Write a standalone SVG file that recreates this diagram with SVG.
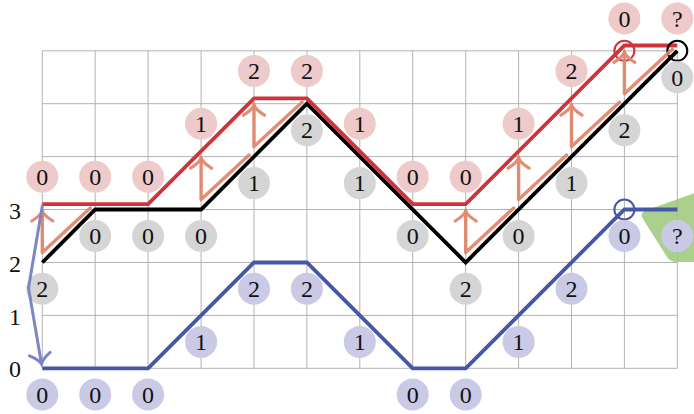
<svg xmlns="http://www.w3.org/2000/svg" width="694" height="414" viewBox="0 0 694 414">
<defs>
<style>
.grid{stroke:#b3b3b3;stroke-width:1;fill:none}
.ln{fill:none;stroke-width:3.8;stroke-linejoin:miter}
.blk{stroke:#000}
.red{stroke:#d0343b}
.blu{stroke:#4657a6}
.ring{fill:none;stroke-width:2}
.sal{fill:none;stroke:#e0856a;stroke-width:3.4;stroke-linejoin:round;stroke-linecap:round;opacity:0.92}
.lb circle{stroke:none}
.p circle{fill:#efcaca}
.g circle{fill:#d5d5d5}
.b circle{fill:#cacae6}
text{font-family:"Liberation Serif","DejaVu Serif",serif;font-size:24px;fill:#111;text-anchor:middle}
</style>
<marker id="ahS" markerUnits="userSpaceOnUse" viewBox="-14 -14 28 28" markerWidth="28" markerHeight="28" refX="0" refY="0" orient="auto" overflow="visible">
<path d="M-10,-10.5 C-6,-4 -2,-0.8 0,0 C-2,0.8 -6,4 -10,10.5" fill="none" stroke="#e0856a" stroke-width="3.2" stroke-linecap="round"/>
</marker>
<marker id="ahB" markerUnits="userSpaceOnUse" viewBox="-14 -14 28 28" markerWidth="28" markerHeight="28" refX="0" refY="0" orient="auto" overflow="visible">
<path d="M-10,-10.5 C-6,-4 -2,-0.8 0,0 C-2,0.8 -6,4 -10,10.5" fill="none" stroke="#7d86c3" stroke-width="3" stroke-linecap="round"/>
</marker>
</defs>
<rect width="694" height="414" fill="#fff"/>
<g id="highlight">
<path d="M643,219 Q639,213 646,210.5 L700,191 L700,262 L677,262 Q670,262 667,257 Z" fill="#abd08e"/>
</g>
<g id="grid" class="grid">
<path d="M42.3,50.8V368.3M95.2,50.8V368.3M148.1,50.8V368.3M201.1,50.8V368.3M254,50.8V368.3M306.9,50.8V368.3M359.8,50.8V368.3M412.7,50.8V368.3M465.7,50.8V368.3M518.6,50.8V368.3M571.5,50.8V368.3M624.4,50.8V368.3M677.3,50.8V368.3"/>
<path d="M42.3,50.8H677.3M42.3,103.7H677.3M42.3,156.6H677.3M42.3,209.5H677.3M42.3,262.5H677.3M42.3,315.4H677.3M42.3,368.3H677.3"/>
</g>
<g id="axis">
<text x="15" y="219">3</text>
<text x="15" y="272">2</text>
<text x="15" y="325">1</text>
<text x="15" y="377">0</text>
</g>
<g id="connectors">
<path id="black-path" class="ln blk" d="M42.3,262.5 L95.2,209.5 L201.1,209.5 L306.9,103.7 L465.7,262.5 L677.3,50.8"/>
<path id="red-path" class="ln red" d="M42.3,204.2 L148.1,204.2 L254,98.4 L306.9,98.4 L412.7,204.2 L465.7,204.2 L624.4,45.5 L677.3,45.5"/>
<path id="blue-path" class="ln blu" d="M42.3,368.3 L148.1,368.3 L254,262.5 L306.9,262.5 L412.7,368.3 L465.7,368.3 L624.4,209.5 L677.3,209.5"/>
<circle class="ring red" cx="624.4" cy="50.8" r="10"/>
<circle class="ring blk" cx="677.3" cy="50.8" r="10"/>
<circle class="ring blu" cx="624.4" cy="209.5" r="10"/>
<g id="shifts">
<path class="sal" marker-end="url(#ahS)" d="M90.3,208 L42.3,252.5 L42.3,211"/>
<path class="sal" marker-end="url(#ahS)" d="M249.1,155 L201.1,199.5 L201.1,158.1"/>
<path class="sal" marker-end="url(#ahS)" d="M302,102.2 L254,146.6 L254,105.2"/>
<path class="sal" marker-end="url(#ahS)" d="M513.7,208 L465.7,252.5 L465.7,211"/>
<path class="sal" marker-end="url(#ahS)" d="M566.6,155 L518.6,199.5 L518.6,158.1"/>
<path class="sal" marker-end="url(#ahS)" d="M619.5,102.2 L571.5,146.6 L571.5,105.2"/>
<path class="sal" marker-end="url(#ahS)" d="M672.4,49.3 L624.4,93.7 L624.4,52.3"/>
</g>
</g>
<g id="red-labels" class="lb p">
<g id="r0"><circle cx="42.3" cy="176.7" r="16"/><text x="42.3" y="184.9">0</text></g>
<g id="r1"><circle cx="95.2" cy="176.7" r="16"/><text x="95.2" y="184.9">0</text></g>
<g id="r2"><circle cx="148.1" cy="176.7" r="16"/><text x="148.1" y="184.9">0</text></g>
<g id="r3"><circle cx="201.1" cy="123.8" r="16"/><text x="201.1" y="132">1</text></g>
<g id="r4"><circle cx="254" cy="70.9" r="16"/><text x="254" y="79.1">2</text></g>
<g id="r5"><circle cx="306.9" cy="70.9" r="16"/><text x="306.9" y="79.1">2</text></g>
<g id="r6"><circle cx="359.8" cy="123.8" r="16"/><text x="359.8" y="132">1</text></g>
<g id="r7"><circle cx="412.7" cy="176.7" r="16"/><text x="412.7" y="184.9">0</text></g>
<g id="r8"><circle cx="465.7" cy="176.7" r="16"/><text x="465.7" y="184.9">0</text></g>
<g id="r9"><circle cx="518.6" cy="123.8" r="16"/><text x="518.6" y="132">1</text></g>
<g id="r10"><circle cx="571.5" cy="70.9" r="16"/><text x="571.5" y="79.1">2</text></g>
<g id="r11"><circle cx="624.4" cy="18.5" r="16"/><text x="624.4" y="26.7">0</text></g>
<g id="r12"><circle cx="677.3" cy="18.5" r="16"/><text x="677.3" y="26.7">?</text></g>
</g>
<g id="black-labels" class="lb g">
<g id="k0"><circle cx="42.3" cy="288.8" r="16"/><text x="42.3" y="297">2</text></g>
<g id="k1"><circle cx="95.2" cy="236" r="16"/><text x="95.2" y="244.2">0</text></g>
<g id="k2"><circle cx="148.1" cy="236" r="16"/><text x="148.1" y="244.2">0</text></g>
<g id="k3"><circle cx="201.1" cy="236" r="16"/><text x="201.1" y="244.2">0</text></g>
<g id="k4"><circle cx="254" cy="183.1" r="16"/><text x="254" y="191.3">1</text></g>
<g id="k5"><circle cx="306.9" cy="130.2" r="16"/><text x="306.9" y="138.4">2</text></g>
<g id="k6"><circle cx="359.8" cy="183.1" r="16"/><text x="359.8" y="191.3">1</text></g>
<g id="k7"><circle cx="412.7" cy="236" r="16"/><text x="412.7" y="244.2">0</text></g>
<g id="k8"><circle cx="465.7" cy="288.8" r="16"/><text x="465.7" y="297">2</text></g>
<g id="k9"><circle cx="518.6" cy="236" r="16"/><text x="518.6" y="244.2">0</text></g>
<g id="k10"><circle cx="571.5" cy="183.1" r="16"/><text x="571.5" y="191.3">1</text></g>
<g id="k11"><circle cx="624.4" cy="130.2" r="16"/><text x="624.4" y="138.4">2</text></g>
<g id="k12"><circle cx="677.3" cy="77.3" r="16"/><text x="677.3" y="85.5">0</text></g>
</g>
<g id="blue-labels" class="lb b">
<g id="b0"><circle cx="42.3" cy="394.5" r="16"/><text x="42.3" y="402.7">0</text></g>
<g id="b1"><circle cx="95.2" cy="394.5" r="16"/><text x="95.2" y="402.7">0</text></g>
<g id="b2"><circle cx="148.1" cy="394.5" r="16"/><text x="148.1" y="402.7">0</text></g>
<g id="b3"><circle cx="201.1" cy="341.9" r="16"/><text x="201.1" y="350.1">1</text></g>
<g id="b4"><circle cx="254" cy="288.8" r="16"/><text x="254" y="297">2</text></g>
<g id="b5"><circle cx="306.9" cy="288.8" r="16"/><text x="306.9" y="297">2</text></g>
<g id="b6"><circle cx="359.8" cy="341.9" r="16"/><text x="359.8" y="350.1">1</text></g>
<g id="b7"><circle cx="412.7" cy="394.5" r="16"/><text x="412.7" y="402.7">0</text></g>
<g id="b8"><circle cx="465.7" cy="394.5" r="16"/><text x="465.7" y="402.7">0</text></g>
<g id="b9"><circle cx="518.6" cy="341.9" r="16"/><text x="518.6" y="350.1">1</text></g>
<g id="b10"><circle cx="571.5" cy="288.8" r="16"/><text x="571.5" y="297">2</text></g>
<g id="b11"><circle cx="624.4" cy="236" r="16"/><text x="624.4" y="244.2">0</text></g>
<g id="b12"><circle cx="677.3" cy="236" r="16"/><text x="677.3" y="244.2">?</text></g>
</g>
<g id="reset-arrow">
<path d="M42.5,205 L28.5,288 L41.5,364" fill="none" stroke="#7d86c3" stroke-width="3" stroke-linejoin="round" marker-end="url(#ahB)"/>
</g>
</svg>
